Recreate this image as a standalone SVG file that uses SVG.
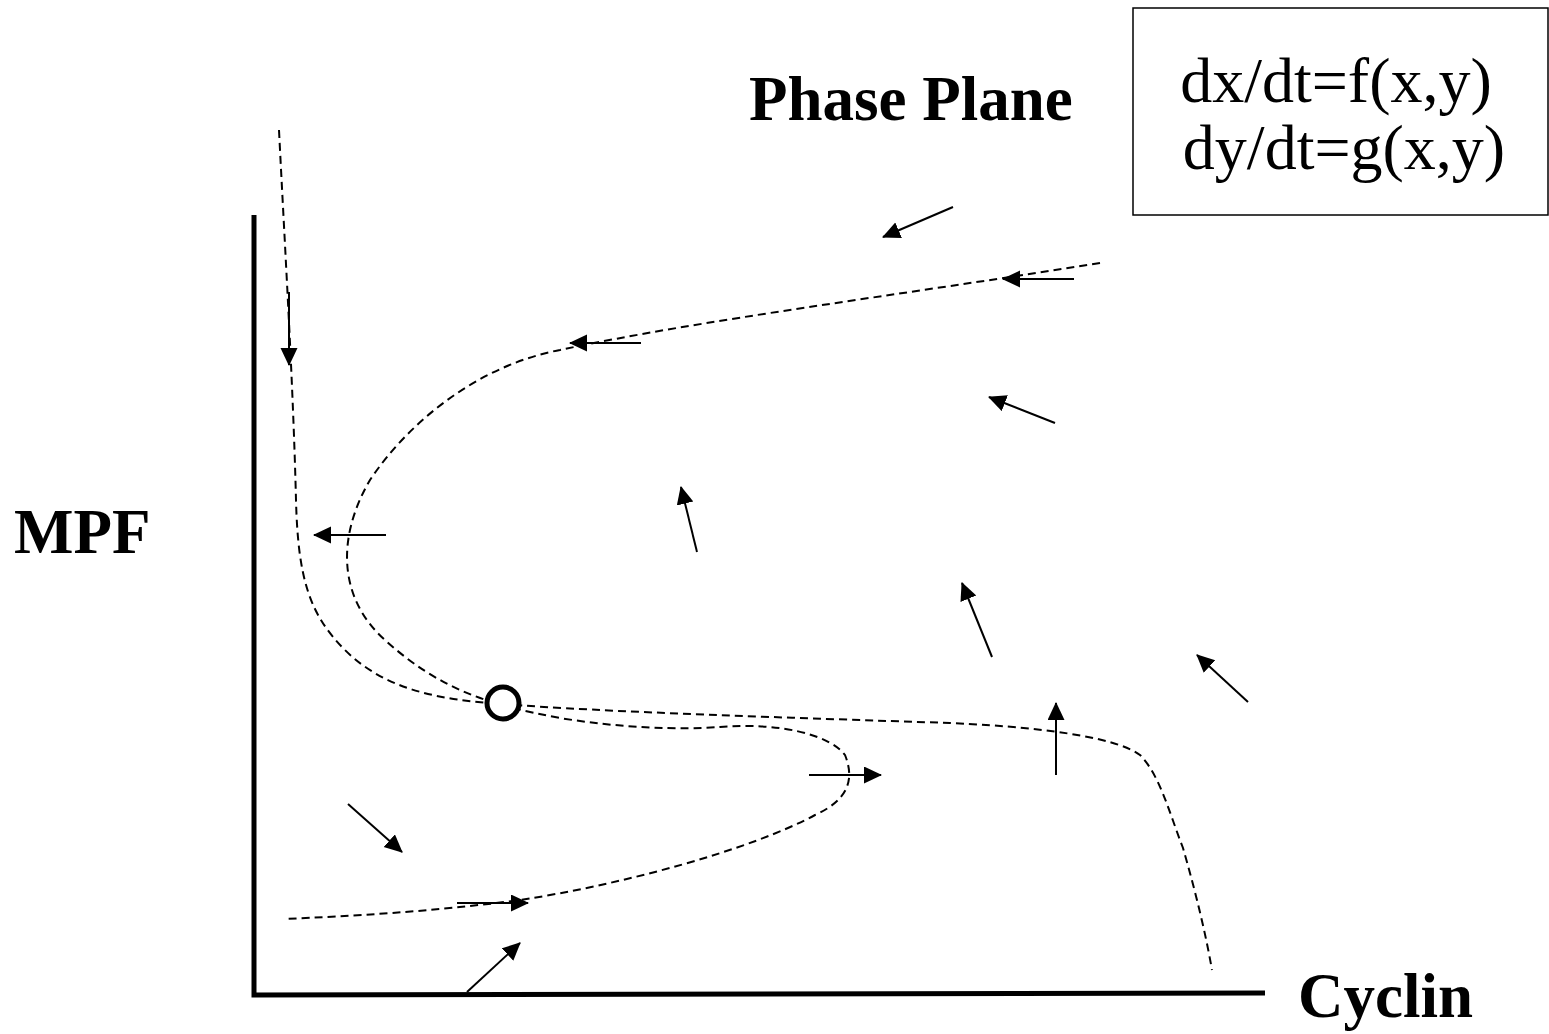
<svg xmlns="http://www.w3.org/2000/svg" width="1549" height="1034" viewBox="0 0 1549 1034">
<style>
.lbl{font-family:"Liberation Serif","Times New Roman",serif;font-weight:bold;font-size:63px;fill:#000}
.eq{font-family:"Liberation Serif","Times New Roman",serif;font-size:64px;fill:#000}
.null{fill:none;stroke:#000;stroke-width:2;stroke-dasharray:8 5}
.vec{fill:none;stroke:#000;stroke-width:2;marker-end:url(#ah)}
.axis{fill:none;stroke:#000;stroke-width:5}
</style>
<defs>
<marker id="ah" markerUnits="userSpaceOnUse" markerWidth="19" markerHeight="18" refX="17" refY="8.5" orient="auto" viewBox="0 0 19 18">
<path d="M0,0 L18,8.5 L0,17 z" fill="#000"/>
</marker>
</defs>
<rect width="1549" height="1034" fill="#fff"/>
<g id="axes">
<path class="axis" d="M254,215 L254,995 L1265,993"/>
</g>
<g id="title"><text class="lbl" x="749" y="120">Phase Plane</text></g>
<g id="ylabel"><text class="lbl" x="14" y="553">MPF</text></g>
<g id="xlabel"><text class="lbl" x="1298" y="1017">Cyclin</text></g>
<g id="equations">
<rect x="1133" y="8" width="415" height="207" fill="none" stroke="#000" stroke-width="1.5"/>
<text class="eq" x="1336" y="102" text-anchor="middle">dx/dt=f(x,y)</text>
<text class="eq" x="1344" y="169" text-anchor="middle">dy/dt=g(x,y)</text>
</g>
<g id="connectors">
<path class="null" d="M279,130 C285,250 293,380 296,500 C298,580 310,615 345,650 C385,690 440,700 503,704 C600,712 800,718 950,723 C1060,728 1120,740 1140,755 C1160,775 1170,815 1183,848 C1195,890 1205,930 1212,970"/>
<path class="null" d="M1100,263 C900,295 700,320 560,350 C480,365 410,420 370,480 C335,540 340,600 385,640 C440,690 490,705 560,718 C620,728 680,730 720,727 C780,722 830,735 845,755 C855,780 848,800 815,815 C750,850 620,885 520,900 C430,912 350,916 285,919"/>
<circle cx="503" cy="703" r="16" fill="#fff" stroke="#000" stroke-width="5"/>
<line class="vec" x1="289" y1="292" x2="289" y2="365"/>
<line class="vec" x1="386" y1="535" x2="314" y2="535"/>
<line class="vec" x1="641" y1="343" x2="570" y2="343"/>
<line class="vec" x1="1074" y1="279" x2="1003" y2="279"/>
<line class="vec" x1="953" y1="207" x2="883" y2="237"/>
<line class="vec" x1="1055" y1="423" x2="989" y2="397"/>
<line class="vec" x1="697" y1="552" x2="681" y2="487"/>
<line class="vec" x1="992" y1="657" x2="962" y2="583"/>
<line class="vec" x1="1248" y1="702" x2="1197" y2="655"/>
<line class="vec" x1="1056" y1="775" x2="1056" y2="703"/>
<line class="vec" x1="809" y1="775" x2="881" y2="775"/>
<line class="vec" x1="348" y1="804" x2="402" y2="852"/>
<line class="vec" x1="457" y1="903" x2="528" y2="903"/>
<line class="vec" x1="467" y1="992" x2="520" y2="943"/>
</g>
</svg>
